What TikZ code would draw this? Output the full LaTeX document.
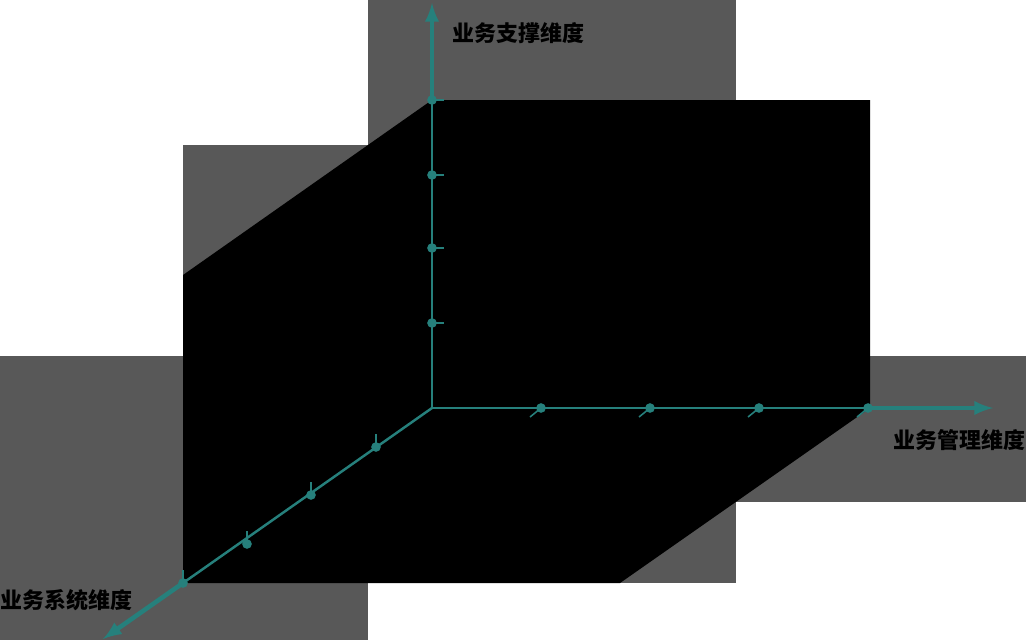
\documentclass[tikz,border=0pt]{standalone}
\usepackage{fontspec}
\usepackage{tikz}
\usetikzlibrary{calc,arrows,positioning}
\newfontfamily\cjk{Noto Sans CJK SC}[BoldFont={Noto Sans CJK SC Black}]
\definecolor{panelgrey}{RGB}{88,88,88}
\definecolor{axteal}{RGB}{38,128,124}
\tikzset{ax/.style={axteal,line width=1.4pt},axout/.style={axteal,line width=2.6pt,-latex}}

\begin{document}
\begin{tikzpicture}[x=0.02cm,y=-0.02cm]

\tikzset{tickdot/.style={circle,fill=axteal,inner sep=0pt,minimum size=5.5pt},
stub/.style={axteal,line width=.9pt},
dimlabel/.style={font=\cjk\bfseries\fontsize{12.5}{15}\selectfont,inner sep=0pt}}

\useasboundingbox (0,0) rectangle (1026,640);

% Panels
\fill[panelgrey] (368,0) rectangle (736,583);
\fill[panelgrey] (183,145) rectangle (432,583);
\fill[panelgrey] (0,356) rectangle (368,640);
\fill[panelgrey] (736,356) rectangle (1026,502);

% Box
\fill[black] (432,100) -- (870,100) -- (870,408) -- (620,583) -- (183,583) -- (183,275) -- cycle;

% Nodes
\coordinate (origin) at (432,408);
\coordinate (topEdge) at (432,100);
\coordinate (topAx) at (432,3);
\coordinate (rightEdge) at (868,408);
\coordinate (rightAx) at (993,408);
\coordinate (leftEdge) at (183,583);
\coordinate (leftAx) at (103,639);

% Axis
\draw[ax] (topEdge) -- (origin) -- (rightEdge);
\draw[ax] (origin) -- (leftEdge);
\draw[axout] (topEdge) -- (topAx);
\draw[axout] (rightEdge) -- (rightAx);
\draw[axout] (leftEdge) -- (leftAx);
\foreach \y [count=\i] in {100,175,248,323} {\node[tickdot] (tickY\i) at (432,\y) {}; \draw[stub] (tickY\i.center) -- +(12,0);} % tick marks
\foreach \x [count=\i] in {541,650,759,868} {\node[tickdot] (tickX\i) at (\x,408) {}; \draw[stub] (tickX\i.center) -- +(-11,9);}
\foreach \x/\y [count=\i] in {376/447,311/495,247/544,183/583} {\node[tickdot] (tickZ\i) at (\x,\y) {}; \draw[stub] (tickZ\i.center) -- +(0,-13);}

% Labels
\node[dimlabel,anchor=west] (supLabel) at (452,33) {业务支撑维度};
\node[dimlabel,anchor=east] (mgmtLabel) at (1026,440) {业务管理维度};
\node[dimlabel,anchor=west] (sysLabel) at (0,600) {业务系统维度};

\end{tikzpicture}
\end{document}
